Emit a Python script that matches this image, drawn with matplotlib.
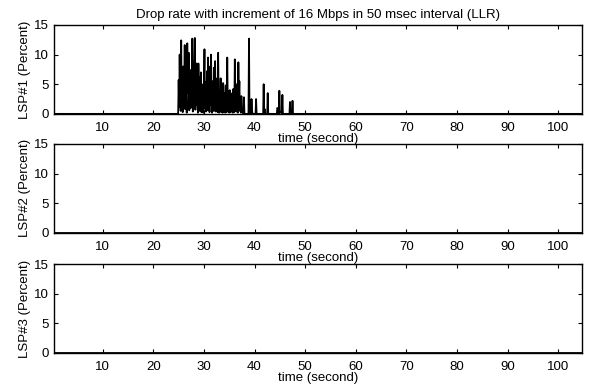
import matplotlib.pyplot as plt

plt.rcParams['font.family'] = ['Liberation Sans', 'DejaVu Sans']
plt.rcParams['font.size'] = 9.5

# LSP#1 drop rate (percent): dense burst sampled every 0.1 s from 24.9 s
burst_start = 24.9
burst_vals = [
    0, 5.7, 1.2, 10.0, 3.0, 0.5, 12.4, 2.0, 5.5, 0.3,
    8.0, 1.5, 4.0, 11.6, 0.8, 6.5, 2.5, 0.2, 11.9, 3.5,
    7.5, 10.3, 0.6, 4.5, 7.4, 1.0, 3.2, 6.0, 12.7, 0.4,
    5.0, 2.2, 9.0, 12.8, 0.7, 6.8, 8.5, 1.5, 3.8, 0.2,
    8.5, 4.8, 0.5, 6.2, 2.4, 7.0, 0.3, 5.0, 1.8, 3.5,
    0.2, 4.6, 10.9, 1.0, 5.3, 0.4, 3.0, 7.2, 0.6, 9.5,
    2.0, 4.2, 0.3, 8.0, 1.5, 10.0, 3.6, 0.2, 5.5, 2.0,
    0.5, 7.8, 3.0, 8.9, 0.4, 4.5, 1.2, 6.0, 0.3, 10.3,
    2.5, 0.2, 4.0, 1.0, 6.0, 0.3, 3.2, 1.5, 0.2, 5.2,
    2.0, 0.4, 3.5, 0.2, 4.8, 1.2, 0.3, 9.5, 2.0, 0.5,
    3.8, 0.2, 4.0, 1.5, 0.3, 2.8, 0.5, 3.5, 0.2, 4.2,
    1.0, 0.3, 9.2, 2.5, 4.0, 0.4, 5.0, 1.8, 0.2, 8.7,
    3.0, 5.5, 0.5, 2.5, 0.2, 3.0, 0.4, 1.0, 0.2, 0,
    2.8, 0,
]
# later isolated drops
tail_t = [38.1, 38.8, 38.9, 39.0, 39.3, 39.4, 39.5, 39.6, 40.2, 40.3, 40.4,
          41.7, 41.8, 41.9, 42.0, 42.1, 42.5, 42.6, 42.7, 44.4, 44.5, 44.6,
          44.8, 44.9, 45.0, 45.4, 45.5, 45.6, 46.9, 47.0, 47.1, 47.4, 47.5,
          47.6, 105]
tail_v = [0, 0, 12.7, 0, 0, 2.5, 0.6, 0, 0, 2.5, 0,
          0, 5.0, 0, 0.8, 0, 0, 3.5, 0, 0, 1.0, 0.9,
          0, 3.9, 0.5, 0, 3.2, 0, 0, 2.0, 0, 0, 2.2,
          0, 0]

t1 = [0, 24.8] + [round(burst_start + 0.1 * i, 1) for i in range(len(burst_vals))] + tail_t
v1 = [0, 0] + burst_vals + tail_v

# LSP#2 and LSP#3: no drops
t_flat = [0, 105]
v2 = [0, 0]
v3 = [0, 0]

series = [(t1, v1, 'LSP#1 (Percent)'),
          (t_flat, v2, 'LSP#2 (Percent)'),
          (t_flat, v3, 'LSP#3 (Percent)')]

fig = plt.figure(figsize=(5.89, 3.9), dpi=100)
bottoms = [0.708, 0.403, 0.095]
for (t, v, lab), b in zip(series, bottoms):
    ax = fig.add_axes([0.092, b, 0.896, 0.228])
    ax.plot(t, v, color='black', linewidth=1.3)
    ax.set_xlim(0.4, 104.7)
    ax.set_ylim(0, 15)
    ax.set_xticks(range(10, 101, 10))
    ax.set_yticks([0, 5, 10, 15])
    ax.tick_params(direction='in', top=True, right=True, length=3)
    ax.tick_params(axis='x', pad=6)
    ax.tick_params(axis='y', pad=4)
    ax.set_ylabel(lab, labelpad=2)
    ax.set_xlabel('time (second)', labelpad=-1)
    for s in ax.spines.values():
        s.set_linewidth(1.0)
    if b == bottoms[0]:
        ax.set_title('Drop rate with increment of 16 Mbps in 50 msec interval (LLR)',
                     fontsize=9.5, pad=5)

fig.savefig('out.png', dpi=100)
